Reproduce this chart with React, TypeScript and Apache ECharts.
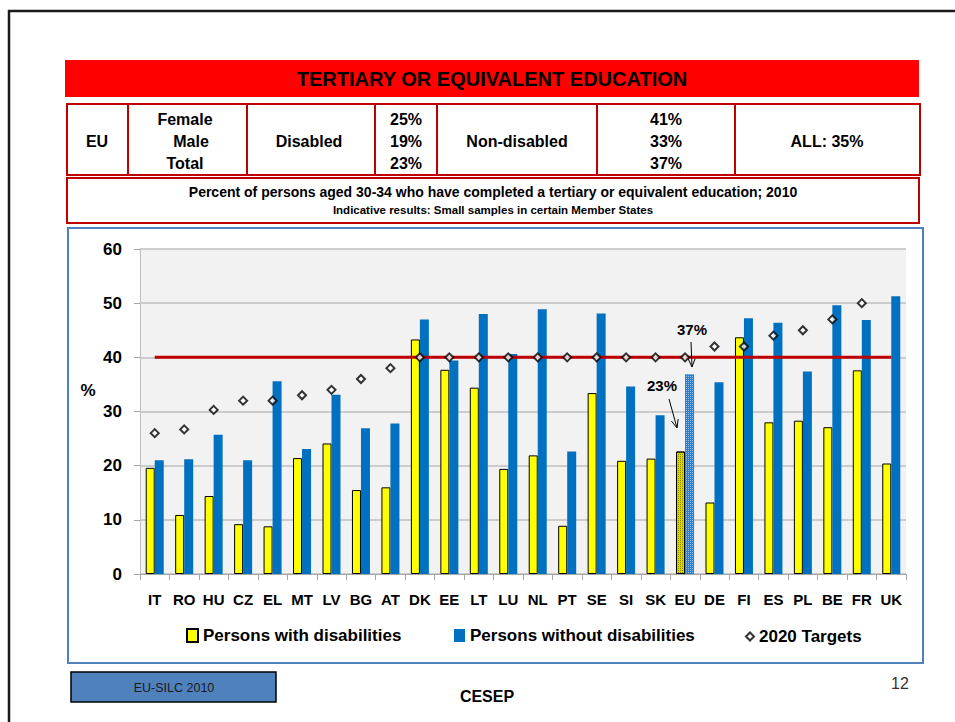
import React, { useEffect, useRef } from 'react';
import * as echarts from 'echarts';

const categories = ['IT','RO','HU','CZ','EL','MT','LV','BG','AT','DK','EE','LT','LU','NL','PT','SE','SI','SK','EU','DE','FI','ES','PL','BE','FR','UK'];
const withDisabilities = [19.6,10.9,14.4,9.2,8.8,21.4,24.1,15.5,16.0,43.3,37.7,34.4,19.4,21.9,8.9,33.4,20.9,21.3,22.6,13.2,43.7,28.0,28.3,27.1,37.6,20.4];
const withoutDisabilities = [21.0,21.2,25.7,21.0,35.6,23.1,33.1,26.9,27.8,47.0,39.4,48.0,40.6,48.9,22.6,48.1,34.6,29.3,36.9,35.4,47.2,46.4,37.4,49.6,46.9,51.3];
const targets2020 = [26,26.7,30.3,32,32,33,34,36,38,40,40,40,40,40,40,40,40,40,40,42,42,44,45,47,50,null];
const euTarget = 40;
const yTicks = { min: 0, max: 60, interval: 10 };

const seriesNames = ['Persons with disabilities', 'Persons without disabilities', '2020 Targets'];
const title = 'TERTIARY OR EQUIVALENT EDUCATION';
const genderLabels = ['Female', 'Male', 'Total'];
const disabledPct = ['25%', '19%', '23%'];
const nonDisabledPct = ['41%', '33%', '37%'];
const allLabel = 'ALL: 35%';
const subtitle1 = 'Percent of persons aged 30-34 who have completed a tertiary or equivalent education; 2010';
const subtitle2 = 'Indicative results: Small samples in certain Member States';
const annotDisabled = '23%';
const annotNonDisabled = '37%';

const FONT = "'Liberation Sans', Arial, sans-serif";
const DARKRED = '#c00000';
const YELLOW = '#ffff00';
const BLUE = '#0070c0';

function txt(text: string, x: number, y: number, size: number, opts: any = {}) {
  return {
    type: 'text', x, y, z: 10,
    style: {
      text, fill: opts.fill || '#000', fontFamily: FONT, fontSize: size,
      fontWeight: opts.weight || 'bold', textAlign: opts.align || 'center', textVerticalAlign: 'middle',
    },
  };
}
function ln(x1: number, y1: number, x2: number, y2: number, stroke: string, w: number) {
  return { type: 'line', z: 10, shape: { x1, y1, x2, y2 }, style: { stroke, lineWidth: w } };
}
function box(x: number, y: number, w: number, h: number, style: any) {
  return { type: 'rect', z: 0, shape: { x, y, width: w, height: h }, style };
}
function arrow(x1: number, y1: number, x2: number, y2: number) {
  const ang = Math.atan2(y2 - y1, x2 - x1);
  const L = 9, a = 0.4;
  return [
    ln(x1, y1, x2, y2, '#000', 1),
    {
      type: 'polyline', z: 10,
      shape: { points: [
        [x2 - L * Math.cos(ang - a), y2 - L * Math.sin(ang - a)],
        [x2, y2],
        [x2 - L * Math.cos(ang + a), y2 - L * Math.sin(ang + a)],
      ] },
      style: { stroke: '#000', lineWidth: 1, fill: 'none' },
    },
  ];
}

export default function App() {
  const ref = useRef<HTMLDivElement>(null);
  useEffect(() => {
    if (!ref.current) return;
    const chart = echarts.init(ref.current, null, { renderer: 'svg' });
    const euIdx = categories.indexOf('EU');
    const rowY = [119, 141, 163];
    const graphic: any[] = [
      // slide frame
      ln(8, 11, 955, 11, '#1a1a1a', 2.5),
      ln(9, 10, 9, 722, '#1a1a1a', 2.5),
      // title band
      box(65, 60, 854, 37, { fill: '#ff0000' }),
      txt(title, 492, 79, 20),
      // table
      box(67, 104, 853, 71, { fill: '#fff', stroke: DARKRED, lineWidth: 2 }),
      ...[128, 247, 375, 437, 597, 735].map((x) => ln(x, 104, x, 175, DARKRED, 2)),
      txt('EU', 97, 141, 16),
      txt(genderLabels[0], 185, rowY[0], 16),
      txt(genderLabels[1], 191, rowY[1], 16),
      txt(genderLabels[2], 185, rowY[2], 16),
      txt('Disabled', 309, 141, 16),
      ...disabledPct.map((t, i) => txt(t, 406, rowY[i], 16)),
      txt('Non-disabled', 517, 141, 16),
      ...nonDisabledPct.map((t, i) => txt(t, 666, rowY[i], 16)),
      txt(allLabel, 827, 141, 16),
      // subtitle box
      box(67, 178, 852, 45, { fill: '#fff', stroke: DARKRED, lineWidth: 2 }),
      txt(subtitle1, 493, 192, 14),
      txt(subtitle2, 493, 210, 11.5),
      // chart frame
      box(68, 228, 855, 435, { fill: 'none', stroke: '#4f81bd', lineWidth: 2 }),
      txt('%', 88, 390, 17),
      // annotations
      txt(annotNonDisabled, 692, 329, 15),
      ...arrow(691, 342, 692, 367),
      txt(annotDisabled, 662, 385, 15),
      ...arrow(669, 399, 677, 428),
      // footer
      box(71, 672, 205, 30, { fill: '#4f81bd', stroke: '#000', lineWidth: 1.5 }),
      txt('EU-SILC 2010', 174, 688, 12.5, { weight: 'normal', fill: '#1a1a1a' }),
      txt('CESEP', 487, 696, 16),
      txt('12', 900, 683, 16, { weight: 'normal', fill: '#333' }),
    ];

    const legendText = { fontFamily: FONT, fontWeight: 'bold', fontSize: 17, color: '#000' };
    chart.setOption({
      animation: false,
      backgroundColor: '#fff',
      textStyle: { fontFamily: FONT },
      grid: { left: 140, right: 49, top: 249, bottom: 148, show: true, backgroundColor: '#f2f2f2', borderWidth: 0 },
      legend: [
        { left: 181, top: 622, itemWidth: 11, itemHeight: 13, selectedMode: false, textStyle: legendText,
          data: [{ name: seriesNames[0], icon: 'rect' }] },
        { left: 449, top: 622, itemWidth: 11, itemHeight: 13, selectedMode: false, textStyle: legendText,
          data: [{ name: seriesNames[1], icon: 'rect' }] },
        { left: 740, top: 623, itemWidth: 8, itemHeight: 8, selectedMode: false, textStyle: legendText,
          data: [{ name: seriesNames[2], icon: 'diamond' }] },
      ],
      xAxis: {
        type: 'category', data: categories,
        axisLine: { lineStyle: { color: '#a6a6a6', width: 1 } },
        axisTick: { show: true, length: 6, lineStyle: { color: '#a6a6a6' } },
        axisLabel: { interval: 0, fontFamily: FONT, fontWeight: 'bold', fontSize: 15, color: '#000', margin: 18 },
      },
      yAxis: {
        type: 'value', min: yTicks.min, max: yTicks.max, interval: yTicks.interval,
        axisLine: { show: true, lineStyle: { color: '#bfbfbf' } },
        axisTick: { show: true, length: 6, lineStyle: { color: '#a6a6a6' } },
        splitLine: { lineStyle: { color: '#bfbfbf', width: 1.5 } },
        axisLabel: { fontFamily: FONT, fontWeight: 'bold', fontSize: 17, color: '#000', margin: 18 },
      },
      series: [
        {
          name: seriesNames[0], type: 'bar', barWidth: 9, barGap: '0%', z: 2,
          itemStyle: { color: YELLOW, borderColor: '#000', borderWidth: 1 },
          data: withDisabilities.map((v, i) => i === euIdx
            ? { value: v, itemStyle: { color: '#d9d900', decal: { symbol: 'rect', symbolSize: 1, dashArrayX: [1, 1], dashArrayY: [1, 1], color: '#8c8c00' } } }
            : v),
        },
        {
          name: seriesNames[1], type: 'bar', barWidth: 9, z: 2,
          itemStyle: { color: BLUE },
          data: withoutDisabilities.map((v, i) => i === euIdx
            ? { value: v, itemStyle: { color: '#2f7fc8', decal: { symbol: 'rect', symbolSize: 1, dashArrayX: [1, 1], dashArrayY: [1, 1], color: '#8fbfe8' } } }
            : v),
        },
        {
          name: 'EU 2020 target', type: 'line', z: 3, symbol: 'none', silent: true,
          lineStyle: { color: DARKRED, width: 3 },
          data: [[categories[0], euTarget], [categories[categories.length - 1], euTarget]],
        },
        {
          name: seriesNames[2], type: 'scatter', symbol: 'diamond', symbolSize: 8, z: 5,
          itemStyle: { color: '#fff', borderColor: '#000', borderWidth: 2 },
          data: targets2020,
        },
      ],
      graphic,
    });
    return () => chart.dispose();
  }, []);
  return <div ref={ref} style={{ position: 'fixed', left: 0, top: 0, width: 955, height: 722 }} />;
}
